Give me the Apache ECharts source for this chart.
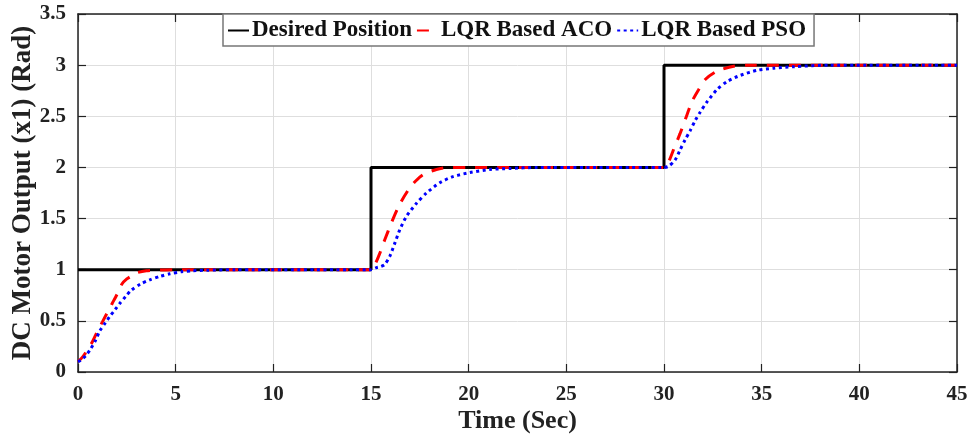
<!DOCTYPE html>
<html>
<head>
<meta charset="utf-8">
<script src="https://cdn.jsdelivr.net/npm/echarts@6/dist/echarts.min.js"></script>
<style>
html,body{margin:0;padding:0;background:#fff;}
#chart{width:973px;height:435px;}
</style>
</head>
<body>
<div id="chart"></div>
<script>
// ---- data ----
const seriesNames = ['Desired Position', 'LQR Based ACO', 'LQR Based PSO'];
const xTickValues = [0, 5, 10, 15, 20, 25, 30, 35, 40, 45];
const yTickValues = [0, 0.5, 1, 1.5, 2, 2.5, 3, 3.5];

const desiredT = [0, 15, 15, 30, 30, 45];
const desiredV = [1, 1, 2, 2, 3, 3];

const acoT = [0, 0.25, 0.5, 0.75, 1.0, 1.25, 1.5, 1.75, 2.0, 2.25, 2.5, 2.75, 3.0, 3.5, 4.0, 5.0, 6.0, 15.0,
  15.1, 15.25, 15.45, 15.7, 16.05, 16.47, 16.98, 17.3, 17.67, 18.35, 19.0, 20.0, 30.0,
  30.2, 30.48, 30.82, 31.17, 31.42, 31.77, 32.11, 32.71, 33.57, 34.5, 45.0];
const acoV = [0.10, 0.15, 0.22, 0.30, 0.40, 0.49, 0.58, 0.67, 0.76, 0.86, 0.91, 0.94, 0.97, 0.99, 0.995, 1.0, 1.0, 1.0,
  1.02, 1.07, 1.16, 1.29, 1.46, 1.64, 1.80, 1.87, 1.93, 1.98, 2.0, 2.0, 2.0,
  2.04, 2.17, 2.33, 2.51, 2.64, 2.76, 2.86, 2.94, 2.99, 3.0, 3.0];

const psoT = [0, 0.17, 0.4, 0.63, 0.9, 1.11, 1.4, 1.62, 1.9, 2.14, 2.45, 2.73, 3.2, 3.67, 4.2, 4.7, 5.3, 5.9, 6.6, 8, 15,
  15.28, 15.5, 15.7, 15.96, 16.22, 16.47, 16.81, 17.33, 17.84, 18.52, 19.2, 20.06, 21.08, 22.1, 23.5, 30,
  30.22, 30.56, 30.82, 31.08, 31.34, 31.6, 31.85, 32.2, 32.71, 33.23, 33.91, 34.77, 35.62, 36.66, 38.5, 45];
const psoV = [0.10, 0.12, 0.16, 0.22, 0.31, 0.40, 0.48, 0.54, 0.61, 0.67, 0.74, 0.80, 0.86, 0.90, 0.935, 0.96, 0.98, 0.99, 0.995, 1.0, 1.0,
  1.02, 1.03, 1.05, 1.13, 1.26, 1.39, 1.52, 1.65, 1.75, 1.85, 1.91, 1.95, 1.98, 1.99, 2.0, 2.0,
  2.01, 2.07, 2.17, 2.27, 2.36, 2.46, 2.54, 2.64, 2.76, 2.84, 2.90, 2.95, 2.97, 2.985, 3.0, 3.0];

const pairs = (t, v) => t.map((x, i) => [x, v[i]]);

const FONT = "'Liberation Serif', 'Times New Roman', serif";
const AX = '#222';

const chart = echarts.init(document.getElementById('chart'), null, {renderer: 'canvas'});
const baseX = {
  type: 'value', min: 0, max: 45, interval: 5
};
const baseY = {
  type: 'value', min: 0, max: 3.5, interval: 0.5
};
chart.setOption({
  animation: false,
  backgroundColor: '#fff',
  grid: {left: 78, right: 16, top: 14, bottom: 63, containLabel: false, outerBoundsMode: 'none'},
  legend: {
    data: seriesNames,
    left: 223, top: 14,
    padding: [5, 8, 4, 4],
    itemGap: 4,
    itemWidth: 21,
    itemHeight: 14,
    backgroundColor: '#fff',
    borderColor: '#777',
    borderWidth: 1.5,
    borderRadius: 0,
    itemStyle: {opacity: 0},
    textStyle: {fontFamily: FONT, fontWeight: 'bold', fontSize: 23, color: '#111', padding: [0, 0, 0, -2]},
    z: 10
  },
  xAxis: [
    Object.assign({}, baseX, {
      position: 'bottom',
      name: 'Time (Sec)', nameLocation: 'middle', nameGap: 36, nameMoveOverlap: false,
      nameTextStyle: {fontFamily: FONT, fontWeight: 'bold', fontSize: 26, color: AX},
      axisLine: {show: true, onZero: false, lineStyle: {color: AX, width: 1.5}},
      axisTick: {show: true, inside: true, length: 8, lineStyle: {color: AX, width: 1.2}},
      axisLabel: {show: true, margin: 12, fontFamily: FONT, fontWeight: 'bold', fontSize: 21, color: AX,
        formatter: v => xTickValues.includes(v) ? String(v) : ''},
      splitLine: {show: true, lineStyle: {color: '#dedede', width: 1}}
    }),
    Object.assign({}, baseX, {
      position: 'top',
      axisLine: {show: true, onZero: false, lineStyle: {color: AX, width: 1.5}},
      axisTick: {show: true, inside: true, length: 8, lineStyle: {color: AX, width: 1.2}},
      axisLabel: {show: false},
      splitLine: {show: false}
    })
  ],
  yAxis: [
    Object.assign({}, baseY, {
      position: 'left',
      name: 'DC Motor Output (x1) (Rad)', nameLocation: 'middle', nameGap: 41, nameMoveOverlap: false,
      nameTextStyle: {fontFamily: FONT, fontWeight: 'bold', fontSize: 27, color: AX},
      axisLine: {show: true, onZero: false, lineStyle: {color: AX, width: 1.5}},
      axisTick: {show: true, inside: true, length: 8, lineStyle: {color: AX, width: 1.2}},
      axisLabel: {show: true, margin: 12, fontFamily: FONT, fontWeight: 'bold', fontSize: 21, color: AX,
        formatter: v => yTickValues.includes(v) ? String(v) : ''},
      splitLine: {show: true, lineStyle: {color: '#dedede', width: 1}}
    }),
    Object.assign({}, baseY, {
      position: 'right',
      axisLine: {show: true, onZero: false, lineStyle: {color: AX, width: 1.5}},
      axisTick: {show: true, inside: true, length: 8, lineStyle: {color: AX, width: 1.2}},
      axisLabel: {show: false},
      splitLine: {show: false}
    })
  ],
  series: [
    {
      name: seriesNames[0], type: 'line', xAxisIndex: 0, yAxisIndex: 0,
      data: pairs(desiredT, desiredV), showSymbol: false, symbol: 'none',
      lineStyle: {color: '#000', width: 3, type: 'solid'}, itemStyle: {color: '#000'}, z: 2
    },
    {
      name: seriesNames[1], type: 'line', xAxisIndex: 0, yAxisIndex: 0,
      data: pairs(acoT, acoV), showSymbol: false, symbol: 'none', smooth: 0.25,
      lineStyle: {color: '#ff0000', width: 3, type: [12, 10]}, itemStyle: {color: '#ff0000'}, z: 3
    },
    {
      name: seriesNames[2], type: 'line', xAxisIndex: 0, yAxisIndex: 0,
      data: pairs(psoT, psoV), showSymbol: false, symbol: 'none', smooth: 0.25,
      lineStyle: {color: '#0000ff', width: 3, type: [3, 3.5]}, itemStyle: {color: '#0000ff'}, z: 4
    }
  ]
});
</script>
</body>
</html>
